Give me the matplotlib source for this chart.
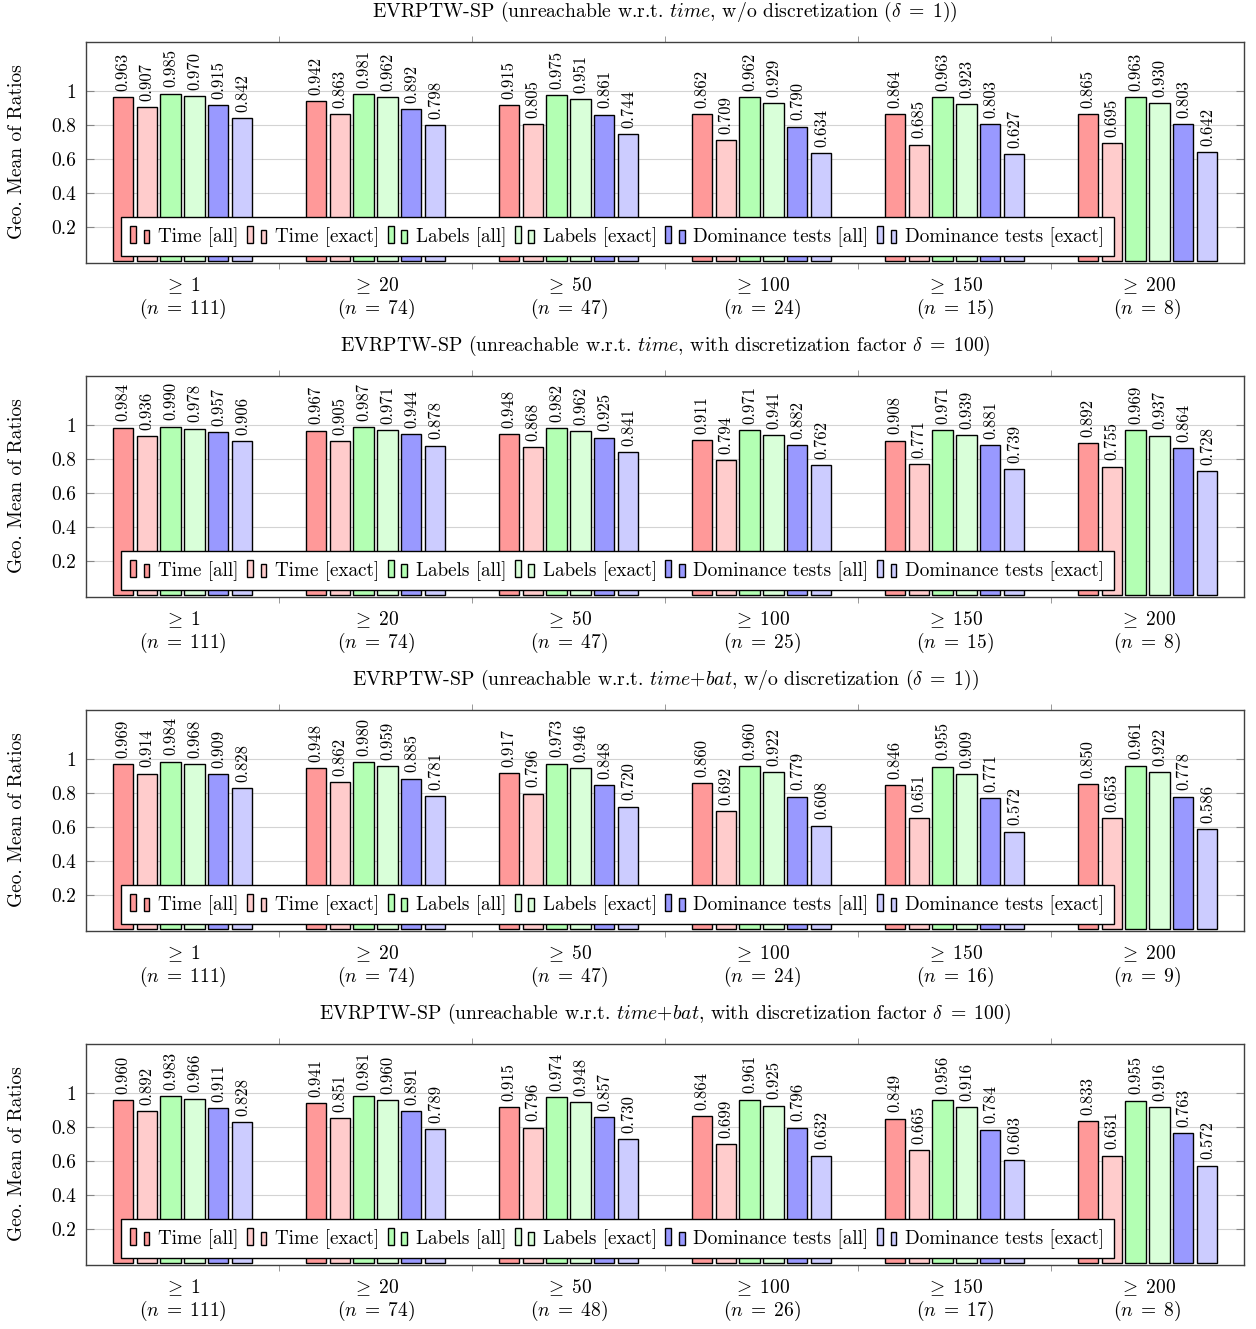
import matplotlib.pyplot as plt
import matplotlib as mpl
import numpy as np
from matplotlib.legend_handler import HandlerBase
from matplotlib.patches import Rectangle

mpl.rcParams['font.family'] = 'cmr10'
mpl.rcParams['mathtext.fontset'] = 'cm'
mpl.rcParams['axes.formatter.use_mathtext'] = True

# data
thresholds = [1, 20, 50, 100, 150, 200]
series_names = ['Time [all]', 'Time [exact]', 'Labels [all]', 'Labels [exact]',
                'Dominance tests [all]', 'Dominance tests [exact]']
fill_colors = ['#ff9999', '#ffcccc', '#b3ffb3', '#d9ffd9', '#9999ff', '#ccccff']

titles = [
    r'EVRPTW-SP (unreachable w.r.t. $\mathit{time}$, w/o discretization ($\delta\;=\;1$))',
    r'EVRPTW-SP (unreachable w.r.t. $\mathit{time}$, with discretization factor $\delta\;=\;100$)',
    r'EVRPTW-SP (unreachable w.r.t. $\mathit{time}{+}\mathit{bat}$, w/o discretization ($\delta\;=\;1$))',
    r'EVRPTW-SP (unreachable w.r.t. $\mathit{time}{+}\mathit{bat}$, with discretization factor $\delta\;=\;100$)',
]

# instance counts per threshold, one list per panel
counts_time_nodisc = [111, 74, 47, 24, 15, 8]
counts_time_disc = [111, 74, 47, 25, 15, 8]
counts_bat_nodisc = [111, 74, 47, 24, 16, 9]
counts_bat_disc = [111, 74, 48, 26, 17, 8]

# rows = thresholds, columns = series
ratios_time_nodisc = [
    [0.963, 0.907, 0.985, 0.970, 0.915, 0.842],
    [0.942, 0.863, 0.981, 0.962, 0.892, 0.798],
    [0.915, 0.805, 0.975, 0.951, 0.861, 0.744],
    [0.862, 0.709, 0.962, 0.929, 0.790, 0.634],
    [0.864, 0.685, 0.963, 0.923, 0.803, 0.627],
    [0.865, 0.695, 0.963, 0.930, 0.803, 0.642],
]
ratios_time_disc = [
    [0.984, 0.936, 0.990, 0.978, 0.957, 0.906],
    [0.967, 0.905, 0.987, 0.971, 0.944, 0.878],
    [0.948, 0.868, 0.982, 0.962, 0.925, 0.841],
    [0.911, 0.794, 0.971, 0.941, 0.882, 0.762],
    [0.908, 0.771, 0.971, 0.939, 0.881, 0.739],
    [0.892, 0.755, 0.969, 0.937, 0.864, 0.728],
]
ratios_bat_nodisc = [
    [0.969, 0.914, 0.984, 0.968, 0.909, 0.828],
    [0.948, 0.862, 0.980, 0.959, 0.885, 0.781],
    [0.917, 0.796, 0.973, 0.946, 0.848, 0.720],
    [0.860, 0.692, 0.960, 0.922, 0.779, 0.608],
    [0.846, 0.651, 0.955, 0.909, 0.771, 0.572],
    [0.850, 0.653, 0.961, 0.922, 0.778, 0.586],
]
ratios_bat_disc = [
    [0.960, 0.892, 0.983, 0.966, 0.911, 0.828],
    [0.941, 0.851, 0.981, 0.960, 0.891, 0.789],
    [0.915, 0.796, 0.974, 0.948, 0.857, 0.730],
    [0.864, 0.699, 0.961, 0.925, 0.796, 0.632],
    [0.849, 0.665, 0.956, 0.916, 0.784, 0.603],
    [0.833, 0.631, 0.955, 0.916, 0.763, 0.572],
]

panels = [
    (titles[0], counts_time_nodisc, ratios_time_nodisc),
    (titles[1], counts_time_disc, ratios_time_disc),
    (titles[2], counts_bat_nodisc, ratios_bat_nodisc),
    (titles[3], counts_bat_disc, ratios_bat_disc),
]


class TwoBarHandler(HandlerBase):
    # pgfplots-style ybar legend image: two small bars
    def create_artists(self, legend, orig_handle, xdescent, ydescent,
                       width, height, fontsize, trans):
        fc = orig_handle.get_facecolor()
        bw = width * 0.3
        y0 = -ydescent - 0.1 * height
        tall = Rectangle((-xdescent, y0), bw, height * 1.25, facecolor=fc,
                         edgecolor='black', lw=1.0, transform=trans)
        short = Rectangle((-xdescent + width - bw, y0), bw, height * 0.95,
                          facecolor=fc, edgecolor='black', lw=1.0, transform=trans)
        return [tall, short]


W, H = 1256, 1329
fig = plt.figure(figsize=(W / 100, H / 100), dpi=100)

x = np.arange(len(thresholds))
bar_w = 0.104
step = 0.124

for i, (title, counts, ratios) in enumerate(panels):
    top = 42 + 334 * i
    ax = fig.add_axes([86 / W, 1 - (top + 221) / H, 1158 / W, 221 / H])
    vals = np.array(ratios)

    for j in range(len(series_names)):
        xs = x + (j - 2.5) * step
        ax.bar(xs, vals[:, j], width=bar_w, color=fill_colors[j],
               edgecolor='black', linewidth=1.0, zorder=2)
        for xv, v in zip(xs, vals[:, j]):
            ax.annotate(f'{v:.3f}', (xv, v), xytext=(0, 4.5), textcoords='offset points',
                        rotation=90, ha='center', va='bottom', fontsize=12)

    ax.set_xlim(-0.5, 5.5)
    ax.set_ylim(-0.012, 1.288)

    ax.set_yticks([0.2, 0.4, 0.6, 0.8, 1.0])
    ax.set_yticklabels(['0.2', '0.4', '0.6', '0.8', '1'])
    ax.tick_params(axis='y', direction='in', length=6, color='#888888',
                   left=True, right=True, labelsize=14, pad=7)
    ax.yaxis.grid(True, color='#d3d3d3', lw=0.8)
    ax.set_axisbelow(True)

    ax.set_xticks(x)
    ax.set_xticklabels([f'$\\geq\\;{t}$\n$(n\\;=\\;{n})$' for t, n in zip(thresholds, counts)],
                       linespacing=1.05)
    ax.tick_params(axis='x', which='major', length=0, pad=9, labelsize=14)
    ax.set_xticks(np.arange(0.5, 5.0, 1.0), minor=True)
    ax.tick_params(axis='x', which='minor', direction='out', length=4,
                   color='#888888', top=True, bottom=True)

    for s in ax.spines.values():
        s.set_color('#404040')
        s.set_linewidth(1.0)

    handles = [Rectangle((0, 0), 1, 1, facecolor=c) for c in fill_colors]
    leg = ax.legend(handles, series_names, handler_map={Rectangle: TwoBarHandler()},
                    loc='lower left', bbox_to_anchor=(0.03, 0.03), ncol=6, fontsize=13.8,
                    frameon=True, fancybox=False, edgecolor='black', framealpha=1,
                    handlelength=1.0, handletextpad=0.45, columnspacing=0.45,
                    borderpad=0.5, borderaxespad=0)
    leg.get_frame().set_linewidth(1.0)

    # title centred over the axes, as in the reference
    fig.text(665 / W, 1 - (12 + 334 * i) / H, title, ha='center', va='center', fontsize=14.2)
    fig.text(17 / W, 1 - (top + 110) / H, 'Geo. Mean of Ratios', rotation=90,
             ha='center', va='center', fontsize=14)

fig.savefig('out.png', dpi=100)
